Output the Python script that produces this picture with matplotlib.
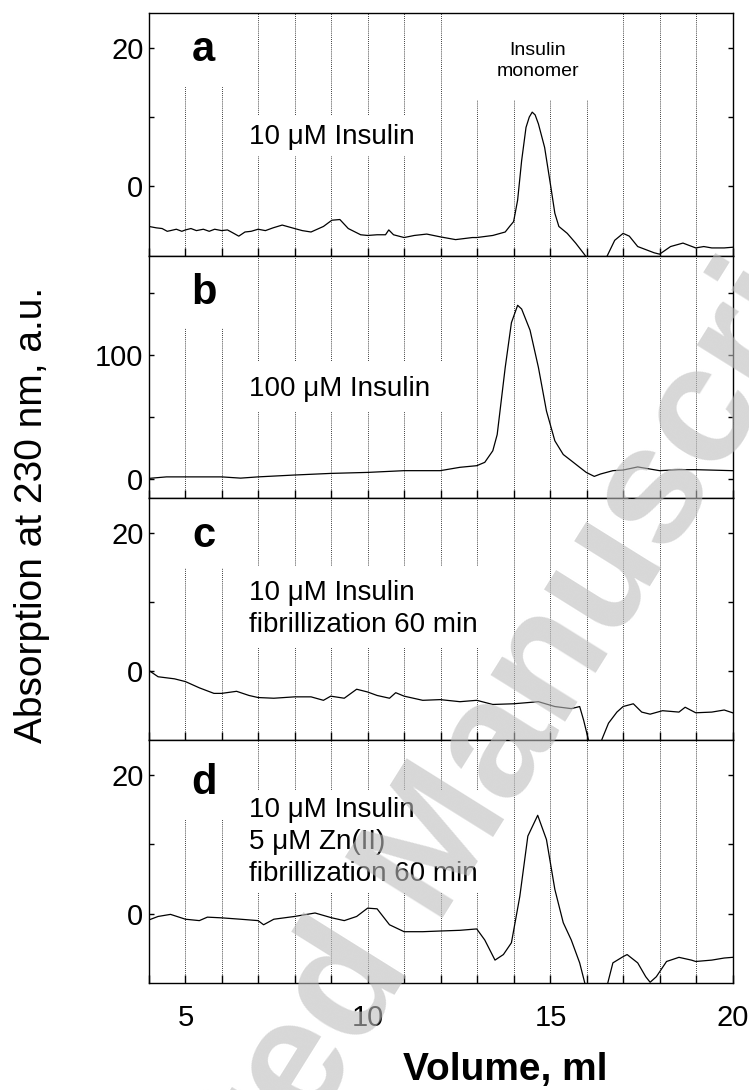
import numpy as np
import matplotlib
matplotlib.use('Agg')
import matplotlib.pyplot as plt
from matplotlib.patches import Rectangle

plt.rcParams['font.family'] = ['Liberation Sans', 'DejaVu Sans']

# SEC traces (volume in ml, absorption in a.u.)
vol_a = [4.00, 4.20, 4.36, 4.50, 4.59, 4.75, 4.90, 5.00, 5.15, 5.30, 5.49, 5.65, 5.80,
         5.99, 6.15, 6.29, 6.46, 6.63, 6.80, 6.99, 7.19, 7.40, 7.65, 7.99, 8.20, 8.44,
         8.78, 9.01, 9.23, 9.46, 9.80, 9.99, 10.25, 10.48, 10.57, 10.70, 10.99, 11.27,
         11.61, 11.98, 12.40, 12.86, 12.98, 13.42, 13.76, 13.88, 13.99, 14.10, 14.21,
         14.33, 14.42, 14.50, 14.58, 14.67, 14.84, 15.01, 15.12, 15.23, 15.46, 15.69,
         15.91, 15.98, 16.10, 16.30, 16.45, 16.54, 16.76, 16.99, 17.16, 17.39, 17.84,
         17.99, 18.29, 18.63, 18.98, 19.20, 19.42, 19.76, 19.99]
abs_a = [-5.8, -6.0, -6.1, -6.5, -6.4, -6.2, -6.5, -6.3, -6.1, -6.4, -6.2, -6.5, -6.2,
         -6.4, -6.3, -6.7, -7.2, -6.6, -6.5, -6.2, -6.4, -6.0, -5.6, -6.1, -6.4, -6.6,
         -5.8, -4.9, -4.8, -6.1, -7.0, -7.1, -7.0, -7.0, -6.3, -7.0, -7.4, -7.1,
         -6.9, -7.3, -7.7, -7.4, -7.4, -7.1, -6.6, -5.8, -5.1, -2.0, 3.7,
         8.5, 10.0, 10.7, 10.3, 9.0, 5.6, -0.1, -3.9, -5.8, -6.8, -8.2,
         -9.7, -10.2, -12.0, -13.0, -11.5, -10.2, -7.8, -6.8, -7.2, -8.7, -9.6,
         -9.8, -8.7, -8.2, -8.9, -8.7, -8.9, -8.9, -8.8]

vol_b = [4.00, 4.48, 5.00, 5.99, 6.51, 6.99, 7.99, 8.98, 9.99, 10.99, 11.98, 12.52,
         12.98, 13.20, 13.42, 13.54, 13.65, 13.76, 13.93, 14.10, 14.21, 14.44, 14.67,
         14.89, 15.12, 15.35, 15.57, 15.80, 15.98, 16.20, 16.37, 16.71, 16.99, 17.39,
         17.73, 17.99, 18.52, 18.98, 19.99]
abs_b = [0.8, 2.0, 2.0, 2.0, 1.0, 2.0, 3.5, 4.8, 5.6, 7.0, 7.0, 9.7,
         11.0, 13.7, 23.0, 36.0, 63.0, 90.0, 126.0, 140.0, 137.0, 120.0, 90.0,
         55.0, 31.0, 20.0, 15.0, 9.7, 5.6, 2.4, 4.3, 7.0, 7.5, 10.0,
         8.3, 7.0, 7.8, 7.8, 7.0]

vol_c = [4.00, 4.25, 4.70, 5.00, 5.38, 5.78, 5.99, 6.40, 6.74, 6.99, 7.42, 7.99, 8.44,
         8.78, 8.98, 9.35, 9.69, 9.99, 10.25, 10.59, 10.76, 10.99, 11.50, 11.98, 12.52,
         12.98, 13.42, 13.99, 14.67, 15.12, 15.57, 15.80, 15.91, 16.03, 16.20, 16.42,
         16.59, 16.82, 16.99, 17.27, 17.50, 17.73, 18.07, 18.52, 18.69, 18.98, 19.42,
         19.76, 19.99]
abs_c = [0.1, -0.8, -1.1, -1.5, -2.4, -3.2, -3.2, -2.9, -3.5, -3.8, -3.9, -3.7, -3.7,
         -4.2, -3.6, -3.9, -2.6, -3.0, -3.5, -3.9, -3.1, -3.6, -4.2, -4.1, -4.4,
         -4.2, -4.8, -4.7, -4.4, -5.1, -5.4, -5.1, -7.1, -9.7, -13.0, -9.7,
         -7.5, -5.9, -5.1, -4.7, -5.9, -6.2, -5.7, -5.9, -5.2, -6.0, -5.9,
         -5.6, -6.0]

vol_d = [4.00, 4.25, 4.59, 5.00, 5.38, 5.60, 5.99, 6.51, 6.99, 7.14, 7.42, 7.99, 8.55,
         9.01, 9.35, 9.69, 9.99, 10.25, 10.59, 10.99, 11.50, 11.98, 12.52, 12.98, 13.20,
         13.48, 13.71, 13.93, 14.16, 14.38, 14.65, 14.89, 15.12, 15.35, 15.57, 15.80,
         15.94, 16.10, 16.30, 16.45, 16.57, 16.71, 16.99, 17.10, 17.39, 17.61, 17.73,
         17.90, 18.18, 18.52, 18.86, 18.98, 19.42, 19.76, 19.99]
abs_d = [-0.9, -0.4, -0.1, -0.8, -1.0, -0.5, -0.6, -0.8, -1.0, -1.6, -0.8, -0.4, 0.1,
         -0.6, -1.0, -0.4, 0.8, 0.7, -1.6, -2.6, -2.6, -2.5, -2.4, -2.2, -3.8,
         -6.7, -5.9, -4.2, 2.5, 11.2, 14.2, 10.7, 3.5, -1.3, -3.8, -7.1,
         -10.0, -13.0, -14.0, -12.0, -10.0, -7.1, -6.2, -5.9, -7.1, -9.1, -9.9,
         -9.1, -6.9, -6.3, -6.7, -6.9, -6.7, -6.4, -6.3]

traces = [(vol_a, abs_a), (vol_b, abs_b), (vol_c, abs_c), (vol_d, abs_d)]
letters = ['a', 'b', 'c', 'd']
ylims = [(-10, 25), (-15, 180), (-10, 25), (-10, 25)]
major_y = [[0, 20], [0, 100], [0, 20], [0, 20]]
minor_y = [[10], [50, 150], [10], [10]]
letter_y = [19.6, 150, 19.5, 18.8]
labels = ['10 \u03bcM Insulin',
          '100 \u03bcM Insulin',
          '10 \u03bcM Insulin\nfibrillization 60 min',
          '10 \u03bcM Insulin\n5 \u03bcM Zn(II)\nfibrillization 60 min']
label_y = [7.1, 73, 9.0, 10.3]
# white boxes behind the annotations (hide the dotted grid there)
boxes = [[(4.6, 14.4, 2.0, 10.6), (6.6, 4.3, 5.2, 5.8), (12.6, 12.5, 3.9, 12.5)],
         [(4.6, 122, 2.0, 58), (6.6, 55, 5.9, 40)],
         [(4.6, 14.9, 2.0, 10.1), (6.6, 3.4, 6.9, 11.8)],
         [(4.6, 13.7, 2.0, 11.3), (6.6, 3.0, 7.0, 14.8)]]

fig, axes = plt.subplots(4, 1, sharex=True, figsize=(7.49, 10.90), dpi=100,
                         gridspec_kw={'hspace': 0})
fig.subplots_adjust(left=0.1989, right=0.9786, top=0.988, bottom=0.0982)

for i, ax in enumerate(axes):
    v, a = traces[i]
    ax.plot(v, a, color='black', lw=0.9, zorder=3)
    ax.set_xlim(4, 20)
    ax.set_ylim(*ylims[i])
    ax.set_xticks([5, 10, 15, 20])
    ax.set_xticks(np.arange(4, 21, 1), minor=True)
    ax.set_yticks(major_y[i])
    ax.set_yticks(minor_y[i], minor=True)
    ax.grid(True, axis='x', which='both', linestyle=(0, (1, 1.5)), color='black', lw=0.6)
    ax.tick_params(axis='x', which='both', direction='in', length=6, width=1,
                   top=False, labelsize=21, pad=15)
    ax.tick_params(axis='y', which='both', direction='in', length=3.5, width=1,
                   left=True, right=True, labelsize=21, pad=4)
    for s in ax.spines.values():
        s.set_linewidth(1.0)
    for (x0, y0, w, h) in boxes[i]:
        ax.add_patch(Rectangle((x0, y0), w, h, facecolor='white', edgecolor='none', zorder=1.8))
    ax.text(5.5, letter_y[i], letters[i], fontsize=30, fontweight='bold',
            ha='center', va='center', zorder=4)
    ax.text(6.74, label_y[i], labels[i], fontsize=20, ha='left', va='center',
            linespacing=1.3, zorder=4)

axes[0].text(14.65, 18.1, 'Insulin\nmonomer', fontsize=14, ha='center', va='center',
             linespacing=1.35, zorder=4)

fig.text(505 / 749, 1 - 1070 / 1090, 'Volume, ml', fontsize=28, fontweight='bold',
         ha='center', va='center')
fig.text(0.043, 0.5275, 'Absorption at 230 nm, a.u.', fontsize=28, rotation=90,
         ha='center', va='center')

# journal watermark
fig.text(425 / 749, 1 - 865 / 1090, 'Accepted Manuscript', fontsize=120, fontweight='bold',
         rotation=58, rotation_mode='anchor', ha='center', va='center',
         color='#bdbdbd', alpha=0.6, zorder=10)

fig.savefig('out.png', dpi=100)
